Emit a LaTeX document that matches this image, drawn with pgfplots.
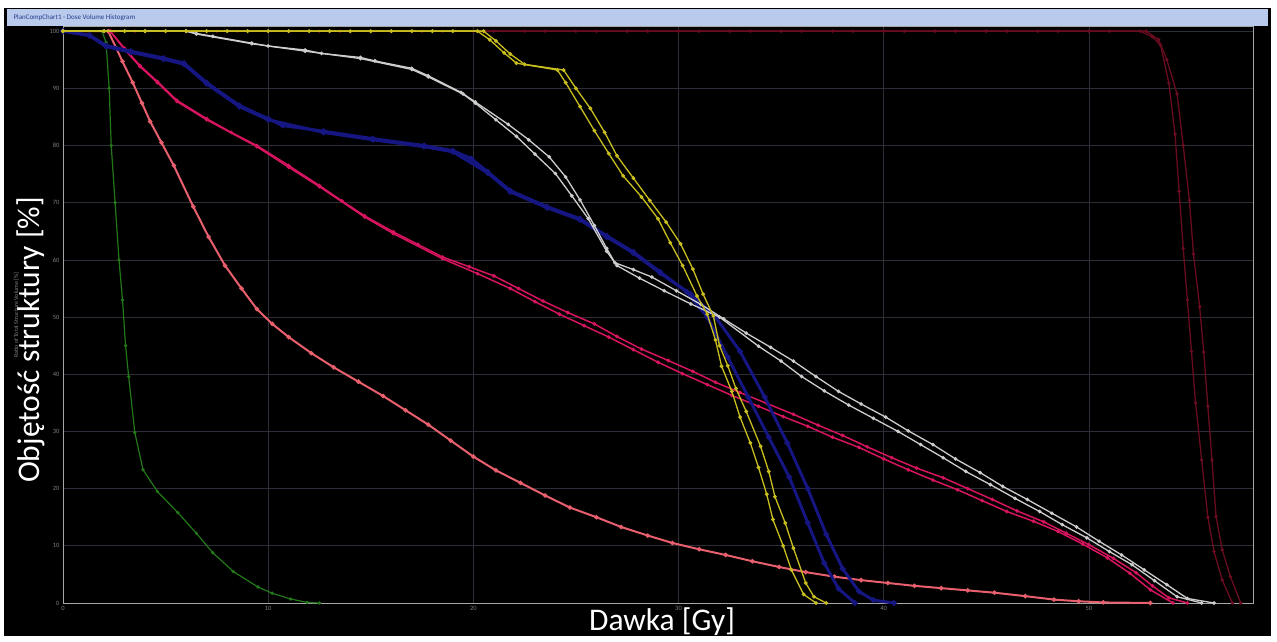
\documentclass[border=0pt]{standalone}
\usepackage{pgfplots}
\pgfplotsset{compat=1.18}
\usepackage{fontspec}
\setmainfont{Carlito}
\definecolor{cgreen}{RGB}{35,120,25}
\definecolor{cgreenm}{RGB}{100,170,70}
\definecolor{ccoral}{RGB}{232,95,110}
\definecolor{ccoralm}{RGB}{255,205,210}
\definecolor{cmag}{RGB}{215,20,95}
\definecolor{cmagm}{RGB}{255,150,190}
\definecolor{cblue}{RGB}{22,22,130}
\definecolor{cbluem}{RGB}{35,35,160}
\definecolor{cwhite}{RGB}{205,205,205}
\definecolor{cyel}{RGB}{200,190,30}
\definecolor{cyelm}{RGB}{245,240,110}
\definecolor{cdred}{RGB}{105,12,32}
\definecolor{cdredm}{RGB}{160,75,85}
\definecolor{cgrid}{RGB}{45,45,55}
\definecolor{ctitle}{RGB}{185,202,236}
\definecolor{ctitletext}{RGB}{40,60,140}
\begin{document}
\begin{tikzpicture}[x=1pt,y=1pt]
\fill[white] (0,0) rectangle (1277,641);
\fill[black] (4,5) rectangle (1271,633);
\fill[ctitle] (7,615) rectangle (1268,632);
\node[anchor=west, text=ctitletext, font=\fontsize{7}{8}\selectfont] at (10,623.5) {PlanCompChart1 - Dose Volume Histogram};
\begin{axis}[
  at={(63pt,38pt)}, anchor=south west,
  scale only axis, width=1190pt, height=577pt,
  xmin=0, xmax=58, ymin=0, ymax=100.9,
  xtick={0,10,...,50}, ytick={0,10,...,100},
  major tick length=0pt,
  grid=major, grid style={cgrid, line width=0.7pt},
  axis line style={draw=gray!70, line width=0.8pt},
  tick label style={font=\fontsize{6.5}{7}\selectfont, text=gray},
  /pgf/number format/assume math mode=true,
  axis background/.style={fill=black},
  clip mode=individual,
]
% dark red
\addplot[cdred, line width=1.3pt, mark=*, mark size=1pt, mark options={fill=cdredm, draw=none}] coordinates {
(0,100)(2.5,100)(5,100)(7.5,100)(10,100)(12.5,100)(15,100)(17.5,100)(20,100)(22.5,100)(25,100)(27.5,100)(30,100)(32.5,100)(35,100)(37.5,100)(40,100)(42.5,100)(45,100)(47.5,100)(50,100)(52.5,100)(53.1,99)(53.5,97.5)(53.9,90.9)(54.2,82)(54.4,72)(54.6,62)(54.8,53)(55.0,44)(55.2,35)(55.5,25)(55.8,15)(56.1,9)(56.5,4)(57.0,0)};
\addplot[cdred, line width=1.3pt, mark=*, mark size=1pt, mark options={fill=cdredm, draw=none}] coordinates {
(0,100)(3.5,100)(6,100)(8.5,100)(11,100)(13.5,100)(16,100)(18.5,100)(21,100)(23.5,100)(26,100)(28.5,100)(31,100)(33.5,100)(36,100)(38.5,100)(41,100)(43.5,100)(46,100)(48.5,100)(51,100)(52.8,100)(53.4,98.5)(53.8,95)(54.3,89)(54.6,80)(54.9,70.4)(55.1,61)(55.4,51.8)(55.6,43.9)(55.8,34.4)(56,25)(56.2,15.1)(56.5,9.3)(56.9,4.6)(57.4,0)};
% green
\addplot[cgreen, line width=1.2pt, mark=*, mark size=1pt, mark options={fill=cgreenm, draw=none}] coordinates {
(0,100)(1.9,100)(2.1,98)(2.25,90)(2.35,80)(2.54,70)(2.73,60)(2.9,53)(3.05,45)(3.2,39.6)(3.5,29.8)(3.9,23.3)(4.6,19.5)(5.6,15.8)(6.5,12.2)(7.3,8.8)(8.3,5.5)(9.5,2.8)(10.2,1.7)(11.1,0.7)(11.9,0.1)(12.5,0)};
% coral
\addplot[ccoral, line width=2pt, mark=*, mark size=1.1pt, mark options={fill=ccoralm, draw=none}] coordinates {
(0,100)(2.2,100)(2.6,97)(2.9,94.7)(3.4,91)(3.85,87.4)(4.25,84.2)(4.8,80.5)(5.4,76.5)(6.35,69.3)(7.1,64)(7.9,59)(8.7,55)(9.45,51.4)(10.2,48.8)(11,46.5)(12.1,43.7)(13.2,41.2)(14.4,38.7)(15.6,36.2)(16.7,33.7)(17.8,31.2)(18.9,28.4)(20,25.6)(21.1,23.2)(22.3,21)(23.5,18.8)(24.7,16.7)(26,15)(27.2,13.3)(28.5,11.8)(29.7,10.5)(31,9.4)(32.3,8.4)(33.6,7.3)(34.9,6.3)(36.2,5.4)(37.6,4.6)(38.9,4)(40.2,3.5)(41.5,3)(42.8,2.6)(44.1,2.2)(45.4,1.8)(46.9,1.2)(48.3,0.6)(49.5,0.3)(50.7,0.1)(53,0)};
% magenta (two)
\addplot[cmag, line width=1.5pt, mark=*, mark size=1pt, mark options={fill=cmagm, draw=none}] coordinates {
(0,100)(2.3,100)(3.0,97)(3.75,94)(4.6,91.2)(5.55,87.9)(7,84.7)(8.2,82.3)(9.45,80)(11,76.5)(12.5,73)(13.6,70.3)(14.7,67.7)(16.1,64.9)(17.3,62.7)(18.5,60.5)(19.8,58.8)(21,57.2)(22.2,55)(23.4,52.8)(24.6,50.8)(25.9,48.8)(27,46.6)(28.2,44.4)(29.5,42.4)(30.7,40.5)(31.8,38.6)(33,36.8)(34.3,34.9)(35.6,33)(36.8,31.1)(38,29.3)(39.2,27.3)(40.4,25.4)(41.6,23.6)(42.9,21.9)(44.1,20)(45.3,18.1)(46.5,16.1)(47.8,14.2)(48.9,12.2)(50,10.2)(51.2,7.8)(52.3,5.3)(53.1,3)(53.9,0.9)(54.8,0)};
\addplot[cmag, line width=1.5pt, mark=*, mark size=1pt, mark options={fill=cmagm, draw=none}] coordinates {
(0,100)(2.3,100)(3,96.8)(3.75,93.8)(4.6,91)(5.55,87.7)(7,84.5)(9.45,79.8)(11,76.2)(12.5,72.8)(14.7,67.5)(16.1,64.6)(18.5,60.2)(20.2,57.6)(21.8,55)(23,52.7)(24.2,50.5)(25.4,48.5)(26.6,46.5)(27.8,44.3)(29,42.1)(30.2,40.1)(31.4,38.2)(32.6,36.3)(33.9,34.4)(35.1,32.6)(36.3,30.9)(37.5,29)(38.8,27.2)(40,25.2)(41.2,23.3)(42.4,21.5)(43.6,19.8)(44.8,17.9)(46,16)(47.3,14.3)(48.5,12.5)(49.7,10.3)(50.9,7.9)(52,5.2)(53,2.3)(54.1,0)};
% blue (two)
\addplot[cblue, line width=3pt, mark=*, mark size=1.1pt, mark options={fill=cbluem, draw=none}] coordinates {
(0,100)(1.3,99.3)(2.1,97.5)(3.3,96.5)(4.9,95.3)(5.9,94.4)(7,91)(8.6,87)(10,84.7)(10.7,83.5)(12.7,82.5)(15.1,81.2)(17.6,80)(19,79.1)(19.9,77.7)(20.7,75.4)(21.8,72.1)(23.6,69.3)(25.2,67.2)(26.5,64.2)(27.8,61.4)(29.1,57.9)(30.4,54.4)(31.4,50)(32.4,43)(33.4,36)(34.4,29)(35.4,22)(36.3,14)(37.1,7)(37.8,2.5)(38.6,0)};
\addplot[cblue, line width=3pt, mark=*, mark size=1.1pt, mark options={fill=cbluem, draw=none}] coordinates {
(0,100)(1.3,99.2)(2.1,97.3)(3.3,96.3)(4.9,95.1)(5.9,94.2)(7,90.8)(8.6,86.8)(10,84.5)(12.7,82.3)(15.1,81)(17.6,79.8)(19,78.9)(20.7,75.2)(21.8,71.9)(23.6,69.1)(25.2,67)(26.5,64)(27.8,61.2)(29.1,57.7)(30.6,54)(31.8,50)(33,44)(34.2,36)(35.3,28)(36.3,20)(37.2,12)(38,6)(38.8,2)(39.5,0.5)(40.5,0)};
% white (two)
\addplot[cwhite, line width=1.3pt, mark=*, mark size=1.1pt, mark options={fill=white, draw=none}] coordinates {
(0,100)(2,100)(4,100)(6,100)(6.5,99.6)(7.3,99.1)(9.2,97.9)(10,97.4)(11.8,96.7)(12.6,96.1)(14.5,95.4)(15.2,94.8)(17,93.5)(17.8,92.2)(19.4,89.3)(20.1,87.6)(21.7,83.7)(22.7,81)(23.7,78)(24.5,74.5)(25.2,70.5)(25.9,66)(26.5,62)(26.9,59.5)(27.8,58.3)(28.7,57)(29.9,54.6)(31.1,52.2)(32.2,49.7)(33.3,47.2)(34.5,44.7)(35.6,42.3)(36.7,39.6)(37.8,37)(38.9,34.8)(40.1,32.5)(41.2,30.1)(42.4,27.7)(43.5,25.2)(44.7,22.8)(45.8,20.4)(47,18.1)(48.2,15.7)(49.4,13.3)(50.5,10.8)(51.6,8.4)(52.7,5.8)(53.8,3.2)(54.8,0.8)(56.1,0)};
\addplot[cwhite, line width=1.3pt, mark=*, mark size=1.1pt, mark options={fill=white, draw=none}] coordinates {
(0,100)(6,100)(6.5,99.5)(9.2,97.8)(11.8,96.5)(14.5,95.2)(17,93.3)(17.8,92)(19.5,89)(20.1,87.4)(21.1,84.5)(22.1,81.6)(23,78.5)(24,75.1)(24.8,71.2)(25.6,67.2)(26.5,61.5)(27,59)(28.1,56.8)(29.3,54.6)(30.6,52.3)(32,50)(33.9,44.9)(35,42.3)(36,39.6)(37.1,37.1)(38.3,34.6)(39.5,32.3)(40.7,30)(41.8,27.7)(42.9,25.4)(44,23)(45.2,20.7)(46.4,18.3)(47.6,16)(48.7,13.7)(49.9,11.4)(51,9)(52.1,6.7)(53.2,3.9)(54.3,1.1)(55.5,0)};
% yellow (two)
\addplot[cyel, line width=1.3pt, mark=*, mark size=1.2pt, mark options={fill=cyelm, draw=none}] coordinates {
(0,100)(2,100)(4,100)(6,100)(8,100)(10,100)(12,100)(14,100)(16,100)(18,100)(20.2,100)(20.8,98.5)(21.5,96.2)(22.1,94.4)(24.1,93.2)(24.5,91)(25.2,86.8)(25.9,82.6)(26.6,78.6)(27.3,74.7)(28.2,71)(29,67.2)(29.6,63)(30.2,59)(30.9,53.7)(31.4,50.5)(31.8,46)(32.1,41.4)(32.6,37)(33,32.5)(33.5,28)(33.9,23.7)(34.3,19)(34.6,14.6)(35.1,10)(35.5,5.8)(36.1,1.5)(36.7,0)};
\addplot[cyel, line width=1.3pt, mark=*, mark size=1.2pt, mark options={fill=cyelm, draw=none}] coordinates {
(0,100)(3,100)(5,100)(7,100)(9,100)(11,100)(13,100)(15,100)(17,100)(19,100)(20.5,100)(21.1,98.3)(21.8,96)(22.5,94.2)(24.4,93.2)(25,90)(25.7,86.5)(26.4,82.3)(27,78.2)(27.8,74.3)(28.6,70.4)(29.4,66.6)(30.1,62.8)(30.7,58.4)(31.2,54)(31.7,50.2)(32,45)(32.4,41.5)(32.8,37.5)(33.3,33.5)(34,27.4)(34.4,23)(34.7,18.6)(35.2,14)(35.6,9.6)(36.2,3.5)(36.6,1.1)(37.2,0)};
\end{axis}
\node[rotate=90, anchor=base, text=gray, font=\fontsize{6}{7}\selectfont] at (18,326) {Ratio of Total Structure Volume [\%]};
\node[rotate=90, anchor=base, text=white, font=\fontsize{31.5}{32}\selectfont] at (39,301) {Objętość struktury [\%]};
\node[anchor=base, text=white, font=\fontsize{31.5}{32}\selectfont] at (662,11) {Dawka [Gy]};
\end{tikzpicture}
\end{document}
